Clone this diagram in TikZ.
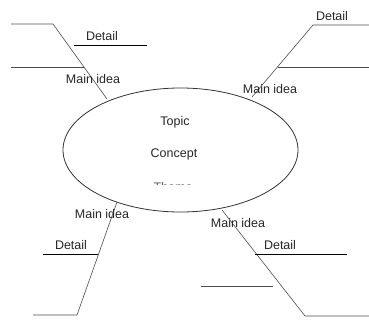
\documentclass[tikz,border=0pt]{standalone}
\usepackage{fontspec}
\setmainfont{Liberation Sans}
\usetikzlibrary{shapes.geometric}
\begin{document}
\begin{tikzpicture}[x=1pt,y=-1pt,
  lbl/.style={inner sep=0pt, text=black!85, font=\fontsize{12.5}{14}\selectfont},
  spoke/.style={draw=black!70, line width=0.6pt},
  under/.style={draw=black, line width=1pt},
  topicbox/.style={ellipse, draw=black!80, line width=0.8pt, minimum width=235pt, minimum height=124pt, inner sep=0pt}]
\useasboundingbox (0,0) rectangle (369,321);
\node[topicbox] (topic) at (180.5,150) {};
\node[lbl] (t1) at (175,122) {Topic};
\node[lbl] (t2) at (174,154) {Concept};
\begin{scope}
\clip (120,170) rectangle (240,184);
\node[lbl, text=black!60] (t3) at (173,187) {Theme};
\end{scope}
% top left
\coordinate (a0) at (11,24);
\coordinate (a1) at (53,24);
\coordinate (a2) at (107,99);
\coordinate (a3) at (11,67);
\coordinate (a4) at (84,67);
\draw[spoke] (a0) -- (a1) -- (a2);
\draw[spoke] (a3) -- (a4);
\node[lbl] (d1) at (102,36) {Detail};
\coordinate (u1a) at (74,46);
\coordinate (u1b) at (147,46);
\draw[under] (u1a) -- (u1b);
\node[lbl] (m1) at (93,79) {Main idea};
% top right
\coordinate (b0) at (369,25);
\coordinate (b1) at (313,25);
\coordinate (b2) at (252,97);
\coordinate (b3) at (369,67);
\coordinate (b4) at (278,67);
\draw[spoke] (b0) -- (b1) -- (b2);
\draw[spoke] (b3) -- (b4);
\node[lbl] (d2) at (332,16) {Detail};
\node[lbl] (m2) at (270,89) {Main idea};
% bottom left
\coordinate (c0) at (33,315);
\coordinate (c1) at (77,315);
\coordinate (c2) at (117,202);
\draw[spoke] (c0) -- (c1) -- (c2);
\node[lbl] (d3) at (71,245) {Detail};
\coordinate (u3a) at (43,254);
\coordinate (u3b) at (98,254);
\draw[under] (u3a) -- (u3b);
\node[lbl] (m3) at (102,214) {Main idea};
% bottom right
\coordinate (e0) at (369,316);
\coordinate (e1) at (305,316);
\coordinate (e2) at (222,210);
\draw[spoke] (e0) -- (e1) -- (e2);
\node[lbl] (d4) at (280,245) {Detail};
\coordinate (u4a) at (255,254);
\coordinate (u4b) at (347,254);
\draw[under] (u4a) -- (u4b);
\coordinate (f1) at (201,286);
\coordinate (f2) at (273,286);
\draw[spoke] (f1) -- (f2);
\node[lbl] (m4) at (238,223) {Main idea};
\end{tikzpicture}
\end{document}
